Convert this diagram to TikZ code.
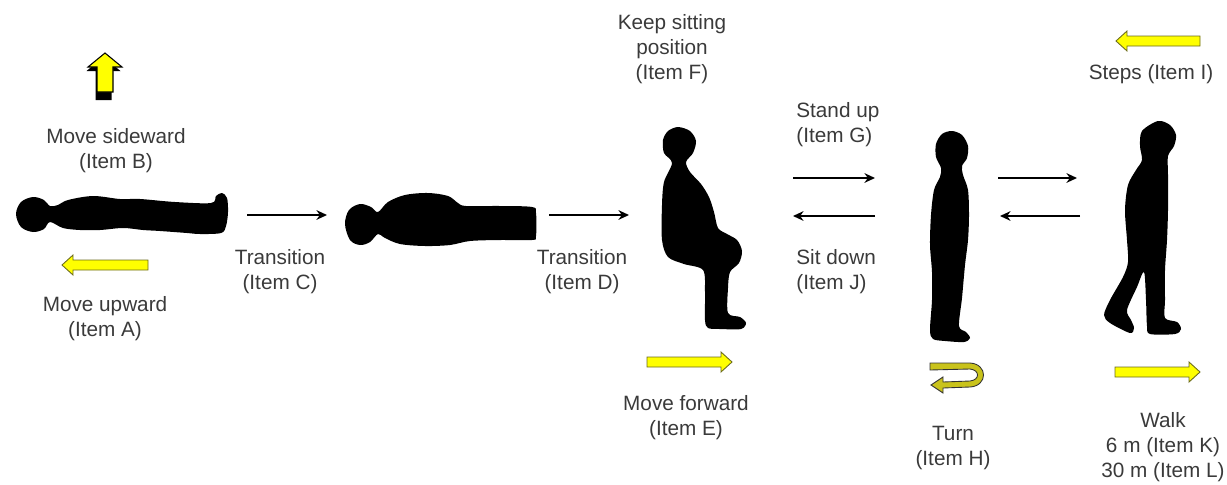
\documentclass[tikz,border=0pt]{standalone}
\usepackage{fontspec}
\setmainfont{Liberation Sans}
\usetikzlibrary{arrows.meta}
\definecolor{cText}{HTML}{3A3A3A}
\definecolor{cYellow}{HTML}{FFFF00}
\definecolor{cEdge}{HTML}{6B6B1E}
\definecolor{cTurn}{HTML}{C9C31B}
\tikzset{
  lbl/.style={font=\fontsize{11.8}{14.2}\selectfont, text=cText, align=center, inner sep=0pt},
  body/.style={fill=black},
  ar/.style={-{Stealth[length=6pt,width=5.5pt]}, line width=1.2pt},
  yarr/.style={fill=cYellow, draw=cEdge, line width=0.5pt},
  turnarr/.style={fill=cTurn, draw=black!80, line width=0.5pt},
}
% flat yellow block arrow: centre x, centre y, length, direction (1 right, -1 left)
\newcommand{\yarrow}[4]{%
  \begin{scope}[shift={(#1,#2)}, xscale=#4]
    \filldraw[yarr] (-#3/2,-5) -- (#3/2-11,-5) -- (#3/2-11,-10) -- (#3/2,0)
      -- (#3/2-11,10) -- (#3/2-11,5) -- (-#3/2,5) -- cycle;
  \end{scope}}

\begin{document}
\begin{tikzpicture}[x=0.02cm, y=-0.02cm]
  \useasboundingbox (0,0) rectangle (1227,484);

  % lying on the back
  \fill[body] plot[smooth cycle, tension=0.55] coordinates {
    (16,214) (21,202) (33,197) (44,200) (50,206) (58,205) (68,200) (93,196)
    (120,199) (140,199) (175,202) (211,203) (216,196) (222,193) (227,198)
    (228,212) (226,226) (221,233) (200,234) (187,233) (160,231) (143,230)
    (123,228) (100,230) (80,230) (63,228) (50,222) (44,229) (33,232) (21,227)};
  % lying, seen from the side
  \fill[body] plot[smooth cycle, tension=0.55] coordinates {
    (345,224) (349,210) (360,204) (371,207) (378,212) (388,202) (405,195)
    (428,193) (448,196) (458,203) (466,206) (500,206) (532,207) (536,213)
    (536,236) (532,240) (500,240) (470,241) (450,245) (425,246) (400,244)
    (385,238) (378,234) (370,242) (360,245) (350,240)};
  % sitting
  \fill[body] plot[smooth cycle, tension=0.5] coordinates {
    (678,127) (690,131) (696,141) (693,153) (686,162) (690,172) (701,184)
    (709,197) (714,212) (718,228) (727,234) (737,240) (742,251) (739,263)
    (730,272) (728,288) (728,313) (740,317) (746,323) (741,329) (720,329)
    (708,328) (705,320) (705,292) (703,270) (684,264) (668,257) (662,240)
    (662,205) (664,182) (672,163) (664,153) (663,140) (668,131)};
  % standing
  \fill[body] plot[smooth cycle, tension=0.5] coordinates {
    (952,131) (962,135) (968,146) (967,158) (962,166) (963,175) (968,190)
    (969,215) (968,240) (965,265) (962,298) (959,326) (966,332) (970,338)
    (964,342) (945,341) (933,339) (930,330) (932,300) (932,272) (930,245)
    (931,215) (934,190) (940,177) (941,168) (936,157) (936,144) (942,134)};
  % walking
  \fill[body] plot[smooth cycle, tension=0.5] coordinates {
    (1158,121) (1170,125) (1176,135) (1174,146) (1168,156) (1168,175)
    (1168,210) (1167,240) (1165,270) (1165,300) (1165,318) (1177,322)
    (1181,329) (1175,334) (1150,334) (1147,326) (1146,300) (1144,272)
    (1137,287) (1127,310) (1131,320) (1134,328) (1130,333) (1110,323)
    (1104,315) (1110,300) (1123,277) (1128,262) (1127,240) (1125,210)
    (1128,185) (1136,170) (1142,160) (1140,146) (1142,131)};

  % sideward arrow with its dark shadow
  \fill[black] (103.5,57) -- (120.5,71) -- (111.5,71) -- (111.5,100)
    -- (95.5,100) -- (95.5,71) -- (86.5,71) -- cycle;
  \filldraw[fill=cYellow, draw=black, line width=0.6pt] (105,53) -- (122,67)
    -- (113,67) -- (113,92) -- (97,92) -- (97,67) -- (88,67) -- cycle;

  % flat arrows
  \yarrow{105}{265}{86}{-1}
  \yarrow{689.5}{362}{85}{1}
  \yarrow{1158}{41}{84}{-1}
  \yarrow{1157.5}{372}{85}{1}

  % turning arrow
  \filldraw[turnarr] (930,363) -- (970,363) .. controls (988,364) and (988,386) .. (970,387)
    -- (943,388) -- (943,393) -- (931,385) -- (943,377) -- (943,382) -- (970,381)
    .. controls (980,380) and (980,370) .. (970,369) -- (930,370) -- cycle;

  % labels
  \node[lbl] (itemB) at (116,151) {Move sideward\\(Item B)};
  \node[lbl] (itemA) at (105,319) {Move upward\\(Item A)};
  \node[lbl] (itemC) at (280,272) {Transition\\(Item C)};
  \node[lbl] (itemD) at (582,272) {Transition\\(Item D)};
  \node[lbl] (itemF) at (672,49) {Keep sitting\\position\\(Item F)};
  \node[lbl] (itemE) at (686,418) {Move forward\\(Item E)};
  \node[lbl, align=left, anchor=west] (itemG) at (796,125) {Stand up\\(Item G)};
  \node[lbl, align=left, anchor=west] (itemJ) at (796,272) {Sit down\\(Item J)};
  \node[lbl] (itemH) at (953,448) {Turn\\(Item H)};
  \node[lbl] (itemI) at (1151,74) {Steps (Item I)};
  \node[lbl] (itemKL) at (1163,447) {Walk\\6 m (Item K)\\30 m (Item L)};

  % transitions between postures
  \coordinate (c1a) at (247,215);  \coordinate (c1b) at (327,215);
  \coordinate (c2a) at (549,215);  \coordinate (c2b) at (629,215);
  \coordinate (c3a) at (793,178);  \coordinate (c3b) at (875,178);
  \coordinate (c4a) at (875,216);  \coordinate (c4b) at (793,216);
  \coordinate (c5a) at (998,178);  \coordinate (c5b) at (1077,178);
  \coordinate (c6a) at (1080,216); \coordinate (c6b) at (1000,216);
  \foreach \s/\e in {c1a/c1b, c2a/c2b, c3a/c3b, c4a/c4b, c5a/c5b, c6a/c6b}
    \draw[ar] (\s) -- (\e);
\end{tikzpicture}
\end{document}
